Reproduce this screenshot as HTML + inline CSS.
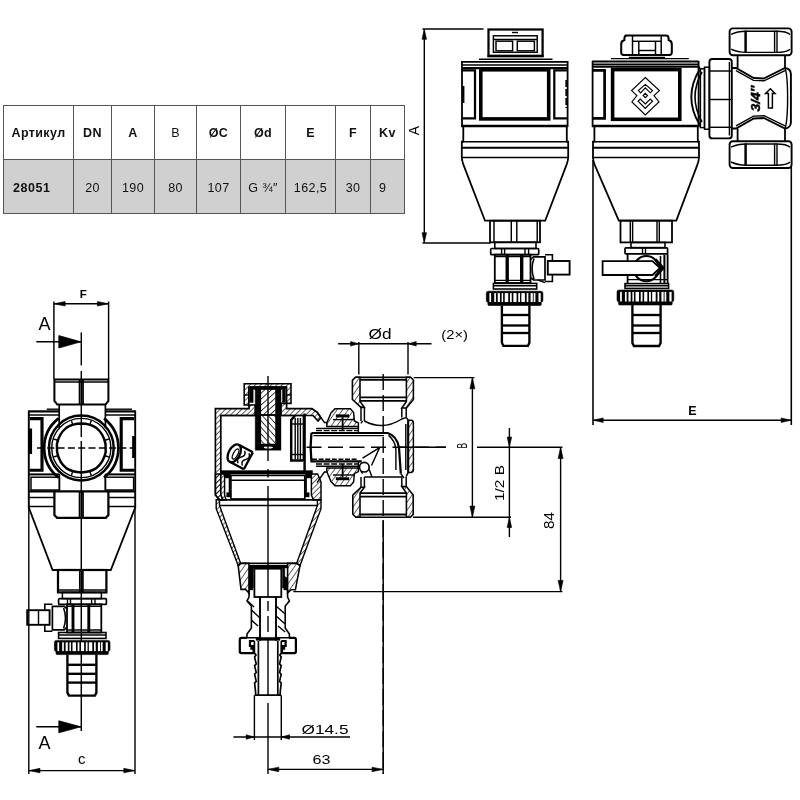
<!DOCTYPE html>
<html lang="ru"><head><meta charset="utf-8"><title>28051</title>
<style>
html,body{margin:0;padding:0;background:#fff;}
html{filter:grayscale(1);}
body{width:800px;height:800px;position:relative;overflow:hidden;font-family:"Liberation Sans",sans-serif;}
svg{position:absolute;left:0;top:0;opacity:0.999;}
table.spec{position:absolute;left:3px;top:105px;border-collapse:collapse;table-layout:fixed;font-family:"Liberation Sans",sans-serif;color:#111;}
table.spec td,table.spec th{border:1px solid #555;padding:0;text-align:center;vertical-align:middle;overflow:hidden;white-space:nowrap;}
table.spec th{height:51.5px;font-size:12.5px;letter-spacing:0.4px;font-weight:bold;background:#fff;padding-top:1px;}
table.spec td{height:50px;font-size:12.5px;letter-spacing:0.4px;background:#d0d0d0;padding-top:3px;}
table.spec td.b{font-weight:bold;text-align:left;padding-left:9px;padding-top:3px;font-size:12.5px;letter-spacing:0.55px;}
</style></head><body>
<table class="spec">
<colgroup><col style="width:70px"><col style="width:38px"><col style="width:43px"><col style="width:42px"><col style="width:44px"><col style="width:45px"><col style="width:50px"><col style="width:35px"><col style="width:34px"></colgroup>
<tr><th>Артикул</th><th>DN</th><th>A</th><th style="font-weight:normal">B</th><th>ØC</th><th>Ød</th><th>E</th><th>F</th><th>Kv</th></tr>
<tr><td class="b">28051</td><td>20</td><td>190</td><td>80</td><td>107</td><td>G ¾″</td><td>162,5</td><td>30</td><td style="text-align:left;padding-left:8px">9</td></tr>
</table>
<svg width="800" height="800" viewBox="0 0 800 800" fill="none" stroke="#000" stroke-linecap="butt" stroke-linejoin="miter">
<line x1="422.5" y1="29" x2="483.5" y2="29" stroke-width="1.4" />
<line x1="424.3" y1="29" x2="424.3" y2="243" stroke-width="1.4" />
<line x1="422.5" y1="243" x2="490.6" y2="243" stroke-width="1.4" />
<polygon points="424.30,29.30 422.05,39.30 426.55,39.30" fill="#000" stroke="#000" stroke-width="0.6"/>
<polygon points="424.30,242.70 422.05,232.70 426.55,232.70" fill="#000" stroke="#000" stroke-width="0.6"/>
<text x="418.5" y="130.5" font-size="14" font-weight="normal" text-anchor="middle" font-family='"Liberation Sans", sans-serif' fill="#000" stroke="none" transform="rotate(-90 418.5 130.5)" class="thin">A</text>
<rect x="488.5" y="29.5" width="54.10" height="26.50" rx="0" stroke-width="2.24" fill="none" />
<line x1="487.5" y1="56" x2="543.6" y2="56" stroke-width="2.69" />
<rect x="493.4" y="35.8" width="43.80" height="16.50" rx="0" stroke-width="1.46" fill="none" />
<line x1="493.4" y1="39.5" x2="537.2" y2="39.5" stroke-width="1.46" />
<rect x="496" y="41.2" width="16.60" height="9.60" rx="0" stroke-width="1.46" fill="none" />
<rect x="517.3" y="41.2" width="17.10" height="9.60" rx="0" stroke-width="1.46" fill="none" />
<line x1="512" y1="32.5" x2="518" y2="32.5" stroke-width="1.4" />
<line x1="479" y1="59.2" x2="552.5" y2="59.2" stroke-width="1.4" />
<line x1="461.3" y1="61.8" x2="567.6" y2="61.8" stroke-width="1.79" />
<line x1="461.8" y1="65" x2="567" y2="65" stroke-width="1.4" />
<line x1="461.3" y1="68.2" x2="567.6" y2="68.2" stroke-width="2.24" />
<rect x="480.8" y="69.8" width="67.90" height="49.10" rx="0" stroke-width="3.58" fill="none" />
<path d="M461.8,70.4 H475 V118.4 H461.8" stroke-width="2.24" fill="none" />
<path d="M566.9,70.4 H554.3 V118.4 H566.9" stroke-width="2.24" fill="none" />
<line x1="463.3" y1="86" x2="463.3" y2="103" stroke-width="2.24" />
<line x1="566.6" y1="80" x2="566.6" y2="108" stroke-width="2.46" stroke-dasharray="7 2"/>
<line x1="461.3" y1="126" x2="568" y2="126" stroke-width="2.58" />
<line x1="461.8" y1="141.7" x2="568" y2="141.7" stroke-width="1.57" />
<line x1="461.8" y1="147.8" x2="568" y2="147.8" stroke-width="2.13" />
<line x1="461.8" y1="157.5" x2="568" y2="157.5" stroke-width="1.57" />
<path d="M462,61 V126 H463.3 V141.7 H461.8 V157.5 Q462,161 463.4,164.6 L485,220.7 H545.2 L566.6,164.6 Q568,161 568.2,157.5 V141.7 H566.8 V126 H567.6 V61" stroke-width="1.79" fill="none" />
<rect x="490" y="220.7" width="50.00" height="21.60" rx="0" stroke-width="1.79" fill="none" />
<line x1="494" y1="220.7" x2="494" y2="242.3" stroke-width="1.46" />
<line x1="511.3" y1="220.7" x2="511.3" y2="242.3" stroke-width="1.46" />
<line x1="516.8" y1="220.7" x2="516.8" y2="242.3" stroke-width="1.46" />
<line x1="537.2" y1="220.7" x2="537.2" y2="242.3" stroke-width="1.46" />
<rect x="494.8" y="242.3" width="41.20" height="6.20" rx="0" stroke-width="1.57" fill="none" />
<rect x="490.7" y="248.5" width="48.00" height="6.20" rx="1" stroke-width="1.68" fill="none" />
<line x1="501.6" y1="248.5" x2="501.6" y2="254.7" stroke-width="1.4" />
<line x1="504.6" y1="248.5" x2="504.6" y2="254.7" stroke-width="1.4" />
<line x1="525" y1="248.5" x2="525" y2="254.7" stroke-width="1.4" />
<line x1="528.6" y1="248.5" x2="528.6" y2="254.7" stroke-width="1.4" />
<rect x="494.8" y="254.7" width="35.70" height="28.30" rx="0" stroke-width="1.79" fill="none" />
<line x1="494.8" y1="256.6" x2="530.5" y2="256.6" stroke-width="1.4" />
<line x1="507.2" y1="254.7" x2="507.2" y2="283" stroke-width="3.36" />
<line x1="521.7" y1="254.7" x2="521.7" y2="283" stroke-width="3.36" />
<line x1="494.8" y1="280.4" x2="530.5" y2="280.4" stroke-width="1.4" />
<path d="M530.5,259.5 L533.5,256.8 H545 V280 H533.5 L530.5,277.5" stroke-width="1.68" fill="none" />
<path d="M534,258.5 Q530.2,268.5 534,279" stroke-width="1.57" fill="none" />
<path d="M545,254.8 H552.4 V281.5 H545" stroke-width="1.57" fill="none" />
<line x1="538" y1="280" x2="545" y2="282.6" stroke-width="1.4" />
<rect x="547.8" y="261" width="21.80" height="13.60" rx="0" stroke-width="1.9" fill="#fff" />
<rect x="493.4" y="283.4" width="43.30" height="5.60" rx="0" stroke-width="1.57" fill="none" />
<line x1="493.4" y1="285.8" x2="536.7" y2="285.8" stroke-width="1.4" />
<path d="M488.3,291.2 H540.9 Q542.9,291.2 542.9,293.2 V300.5 Q542.9,302.1 541.3,302.3 V304.5 Q541.3,305.5 540.3,305.5 H488.90000000000003 Q487.90000000000003,305.5 487.90000000000003,304.5 V302.3 Q486.3,302.1 486.3,300.5 V293.2 Q486.3,291.2 488.3,291.2 Z" fill="#000" stroke="#000" stroke-width="0.6"/>
<rect x="489.41" y="293.09999999999997" width="1.70" height="8.90" fill="#fff" stroke="none"/>
<rect x="494.21" y="293.09999999999997" width="1.70" height="8.90" fill="#fff" stroke="none"/>
<rect x="497.72" y="293.09999999999997" width="2.20" height="8.90" fill="#fff" stroke="none"/>
<rect x="501.63" y="293.09999999999997" width="1.50" height="8.90" fill="#fff" stroke="none"/>
<rect x="504.73" y="293.09999999999997" width="3.51" height="8.90" fill="#fff" stroke="none"/>
<rect x="509.94" y="293.09999999999997" width="1.80" height="8.90" fill="#fff" stroke="none"/>
<rect x="513.35" y="293.09999999999997" width="3.21" height="8.90" fill="#fff" stroke="none"/>
<rect x="518.26" y="293.09999999999997" width="1.80" height="8.90" fill="#fff" stroke="none"/>
<rect x="521.36" y="293.09999999999997" width="3.51" height="8.90" fill="#fff" stroke="none"/>
<rect x="526.67" y="293.09999999999997" width="1.70" height="8.90" fill="#fff" stroke="none"/>
<rect x="530.58" y="293.09999999999997" width="2.20" height="8.90" fill="#fff" stroke="none"/>
<rect x="533.68" y="293.09999999999997" width="1.70" height="8.90" fill="#fff" stroke="none"/>
<rect x="538.49" y="293.09999999999997" width="2.20" height="8.90" fill="#fff" stroke="none"/>
<path d="M501.9,305.5 V342.8 L503.4,345.8 H527.9 L529.4,342.8 V305.5" stroke-width="2.35" fill="none" />
<line x1="501.9" y1="315" x2="529.4" y2="315" stroke-width="2.35" />
<line x1="501.9" y1="325.5" x2="529.4" y2="325.5" stroke-width="2.35" />
<line x1="501.9" y1="333" x2="529.4" y2="333" stroke-width="2.35" />
<text x="454.6" y="338.6" font-size="13.3" font-weight="normal" text-anchor="middle" font-family='"Liberation Sans", sans-serif' fill="#000" stroke="none" class="thin" textLength="26.5" lengthAdjust="spacingAndGlyphs">(2×)</text>
<line x1="593" y1="160" x2="593" y2="425" stroke-width="1.57" />
<line x1="791.3" y1="167" x2="791.3" y2="425" stroke-width="1.57" />
<line x1="593" y1="420.2" x2="791.3" y2="420.2" stroke-width="1.46" />
<polygon points="593.20,420.20 603.20,417.95 603.20,422.45" fill="#000" stroke="#000" stroke-width="0.6"/>
<polygon points="791.10,420.20 781.10,417.95 781.10,422.45" fill="#000" stroke="#000" stroke-width="0.6"/>
<text x="692.5" y="415.3" font-size="12.5" font-weight="bold" text-anchor="middle" font-family='"Liberation Sans", sans-serif' fill="#000" stroke="none" >E</text>
<path d="M625,35.5 H666 Q668.4,35.5 668.6,38 V40 Q671.8,41 671.8,44 V52.6 Q671.8,55 669.4,55 H623.6 Q621.2,55 621.2,52.6 V44 Q621.2,41 624.4,40 V38 Q624.6,35.5 627,35.5" stroke-width="2.02" fill="none" />
<line x1="632.5" y1="41.3" x2="661.2" y2="41.3" stroke-width="1.46" />
<line x1="632.5" y1="36" x2="632.5" y2="54.6" stroke-width="1.46" />
<line x1="638.8" y1="41.3" x2="638.8" y2="54.6" stroke-width="1.46" />
<line x1="655.5" y1="41.3" x2="655.5" y2="54.6" stroke-width="1.46" />
<line x1="661.2" y1="36" x2="661.2" y2="54.6" stroke-width="1.46" />
<line x1="638.8" y1="50.5" x2="655.5" y2="50.5" stroke-width="1.46" />
<line x1="628.8" y1="57.4" x2="665" y2="57.4" stroke-width="1.46" />
<line x1="611" y1="58.6" x2="688.8" y2="58.6" stroke-width="1.4" />
<line x1="592" y1="61.5" x2="698.6" y2="61.5" stroke-width="1.79" />
<line x1="592.4" y1="64.2" x2="698.2" y2="64.2" stroke-width="1.4" />
<line x1="592" y1="66.6" x2="698.6" y2="66.6" stroke-width="2.24" />
<rect x="612.6" y="69.6" width="67.20" height="49.70" rx="0" stroke-width="3.58" fill="none" />
<path d="M592.4,70.4 H604.6 V118.4 H592.4" stroke-width="2.69" fill="none" />
<line x1="592" y1="126" x2="699" y2="126" stroke-width="2.58" />
<line x1="592.4" y1="141.7" x2="699" y2="141.7" stroke-width="1.57" />
<line x1="592.4" y1="147.8" x2="699" y2="147.8" stroke-width="2.13" />
<line x1="592.4" y1="157.5" x2="699" y2="157.5" stroke-width="1.57" />
<path d="M592.6,61 V126 H594.4 V141.7 H593 V157.5 Q593.2,161 594.6,164.6 L618.8,220.6 H676.3 L697.4,164.6 Q698.8,161 699,157.5 V141.7 H697.8 V126 H698.6 V61" stroke-width="1.79" fill="none" />
<rect x="620.5" y="220.6" width="51.50" height="21.80" rx="0" stroke-width="1.79" fill="none" />
<line x1="630.3" y1="220.6" x2="630.3" y2="242.4" stroke-width="1.4" />
<line x1="632.6" y1="220.6" x2="632.6" y2="242.4" stroke-width="1.4" />
<line x1="657" y1="220.6" x2="657" y2="242.4" stroke-width="1.4" />
<line x1="659.3" y1="220.6" x2="659.3" y2="242.4" stroke-width="1.4" />
<rect x="631" y="242.4" width="34.00" height="5.20" rx="0" stroke-width="1.57" fill="none" />
<rect x="625" y="247.8" width="42.60" height="6.00" rx="1" stroke-width="1.68" fill="none" />
<line x1="642.5" y1="247.8" x2="642.5" y2="253.8" stroke-width="1.4" />
<line x1="645.5" y1="247.8" x2="645.5" y2="253.8" stroke-width="1.4" />
<path d="M627.6,253.8 V283.6 M667.6,253.8 V283.6" stroke-width="1.79" fill="none" />
<line x1="664.4" y1="255" x2="664.4" y2="283" stroke-width="2.02" />
<line x1="660.5" y1="256" x2="660.5" y2="283" stroke-width="1.57" />
<circle cx="646.3" cy="268.6" r="12.6" stroke-width="2.13" fill="none" />
<path d="M602.6,261.2 H652.5 L660,268 L652.5,275 H602.6 Z" stroke-width="1.79" fill="#fff" />
<path d="M655.4,259.6 L663,268 L655.4,276.4" stroke-width="2.91" fill="none" />
<line x1="627.6" y1="279.6" x2="667.6" y2="279.6" stroke-width="1.4" />
<rect x="625" y="283.6" width="43.60" height="4.80" rx="0" stroke-width="1.57" fill="none" />
<line x1="625" y1="285.8" x2="668.6" y2="285.8" stroke-width="1.4" />
<path d="M619,290 H671.8 Q673.8,290 673.8,292 V300 Q673.8,301.6 672.1999999999999,301.8 V304 Q672.1999999999999,305 671.1999999999999,305 H619.6 Q618.6,305 618.6,304 V301.8 Q617,301.6 617,300 V292 Q617,290 619,290 Z" fill="#000" stroke="#000" stroke-width="0.6"/>
<rect x="620.12" y="291.9" width="1.71" height="9.60" fill="#fff" stroke="none"/>
<rect x="624.94" y="291.9" width="1.71" height="9.60" fill="#fff" stroke="none"/>
<rect x="628.46" y="291.9" width="2.21" height="9.60" fill="#fff" stroke="none"/>
<rect x="632.38" y="291.9" width="1.51" height="9.60" fill="#fff" stroke="none"/>
<rect x="635.50" y="291.9" width="3.52" height="9.60" fill="#fff" stroke="none"/>
<rect x="640.73" y="291.9" width="1.81" height="9.60" fill="#fff" stroke="none"/>
<rect x="644.14" y="291.9" width="3.22" height="9.60" fill="#fff" stroke="none"/>
<rect x="649.07" y="291.9" width="1.81" height="9.60" fill="#fff" stroke="none"/>
<rect x="652.19" y="291.9" width="3.52" height="9.60" fill="#fff" stroke="none"/>
<rect x="657.51" y="291.9" width="1.71" height="9.60" fill="#fff" stroke="none"/>
<rect x="661.43" y="291.9" width="2.21" height="9.60" fill="#fff" stroke="none"/>
<rect x="664.55" y="291.9" width="1.71" height="9.60" fill="#fff" stroke="none"/>
<rect x="669.38" y="291.9" width="2.21" height="9.60" fill="#fff" stroke="none"/>
<path d="M632.4,305 V343 L633.9,346 H659.1 L660.6,343 V305" stroke-width="2.35" fill="none" />
<line x1="632.4" y1="315" x2="660.6" y2="315" stroke-width="2.35" />
<line x1="632.4" y1="325.5" x2="660.6" y2="325.5" stroke-width="2.35" />
<line x1="632.4" y1="333" x2="660.6" y2="333" stroke-width="2.35" />
<path d="M699.6,69.4 Q683,97 699.6,124.6" stroke-width="1.9" fill="none" />
<path d="M702,72 Q688,97 702,122" stroke-width="1.57" fill="none" />
<path d="M699,66.6 L700.5,69.5 M699,126 L700.5,124.5" stroke-width="1.4" fill="none" />
<rect x="700.4" y="68.8" width="4.10" height="58.80" rx="0" stroke-width="1.46" fill="none" />
<rect x="704.5" y="67.2" width="4.90" height="62.00" rx="0" stroke-width="1.46" fill="none" />
<rect x="709.4" y="59" width="22.40" height="79.40" rx="3" stroke-width="1.9" fill="none" />
<line x1="709.4" y1="71" x2="731.8" y2="71" stroke-width="1.46" />
<line x1="709.4" y1="99.5" x2="731.8" y2="99.5" stroke-width="1.46" />
<line x1="709.4" y1="127.3" x2="731.8" y2="127.3" stroke-width="1.46" />
<line x1="729.4" y1="62" x2="729.4" y2="135.5" stroke-width="1.4" />
<rect x="729.6" y="28.4" width="62.00" height="26.80" rx="3.2" stroke-width="1.9" fill="none" />
<line x1="745.6" y1="30.599999999999998" x2="745.6" y2="53.0" stroke-width="2.46" />
<line x1="774.6" y1="30.599999999999998" x2="774.6" y2="53.0" stroke-width="1.4" />
<line x1="777" y1="30.599999999999998" x2="777" y2="53.0" stroke-width="1.4" />
<path d="M731.1,34.4 Q737.6,31.2 746,31.2 H776.3 Q786.6,31.2 790.1,34.4" stroke-width="1.4" fill="none" />
<path d="M731.1,49.2 Q737.6,52.400000000000006 746,52.400000000000006 H776.3 Q786.6,52.400000000000006 790.1,49.2" stroke-width="1.4" fill="none" />
<rect x="729.6" y="141.2" width="62.00" height="26.80" rx="3.2" stroke-width="1.9" fill="none" />
<line x1="745.6" y1="143.39999999999998" x2="745.6" y2="165.8" stroke-width="2.46" />
<line x1="774.6" y1="143.39999999999998" x2="774.6" y2="165.8" stroke-width="1.4" />
<line x1="777" y1="143.39999999999998" x2="777" y2="165.8" stroke-width="1.4" />
<path d="M731.1,147.2 Q737.6,144.0 746,144.0 H776.3 Q786.6,144.0 790.1,147.2" stroke-width="1.4" fill="none" />
<path d="M731.1,162 Q737.6,165.2 746,165.2 H776.3 Q786.6,165.2 790.1,162" stroke-width="1.4" fill="none" />
<path d="M737.6,55.2 V68 M785,55.2 V68" stroke-width="1.79" fill="none" />
<path d="M737.6,141.2 V128.5 M785,141.2 V128.5" stroke-width="1.79" fill="none" />
<path d="M732,68 H736 L753.75,78 L763.75,78.5 L785,68 Q790.6,68.5 790.9,74 V122.5 Q790.6,128 785,128.5 L763.75,118 L753.75,118.5 L736,128.5 H732" stroke-width="1.9" fill="none" />
<path d="M736,70.6 L753.5,80.4 L764,80.8 L785,70.6" stroke-width="1.4" fill="none" />
<path d="M736,125.9 L753.5,116.1 L764,115.7 L785,125.9" stroke-width="1.4" fill="none" />
<path d="M785,68 Q787.6,75 787.6,98 Q787.6,121 785,128.5" stroke-width="1.4" fill="none" />
<text x="759.6" y="111.5" font-size="13.5" font-weight="bold" text-anchor="start" font-family='"Liberation Sans", sans-serif' fill="#000"  transform="rotate(-90 759.6 111.5)" font-style="italic" stroke="#000" stroke-width="0.5" textLength="26" lengthAdjust="spacingAndGlyphs">3/4″</text>
<path d="M770.3,88.8 L775,93.4 H772.4 V108 H768.4 V93.4 H765.6 Z" stroke-width="1.46" fill="none" />
<g stroke-width="1.15" stroke-linejoin="miter">
<path d="M645.3,77.5 L659.4,90.6 L654,95.6 L659,101.9 L645.3,115 L631.9,101.9 L636.9,95.6 L631.6,90.6 Z"/>
<path d="M645.3,84.4 L652.5,90.6 L650.3,92.8 L645.3,87.8 L640.6,92.8 L638.4,90.6 Z"/>
<path d="M645.3,93.3 L647.5,95.5 L645.3,97.7 L643.1,95.5 Z"/>
<path d="M645.3,108.4 L652.5,101.25 L650.3,99 L645.3,104 L640.3,99 L638.1,101.25 Z"/>
</g>
<line x1="53.9" y1="301.5" x2="53.9" y2="379" stroke-width="1.46" />
<line x1="108.6" y1="301.5" x2="108.6" y2="379" stroke-width="1.46" />
<line x1="53.9" y1="303.8" x2="108.6" y2="303.8" stroke-width="1.46" />
<polygon points="54.10,303.80 65.10,301.55 65.10,306.05" fill="#000" stroke="#000" stroke-width="0.6"/>
<polygon points="108.40,303.80 97.40,301.55 97.40,306.05" fill="#000" stroke="#000" stroke-width="0.6"/>
<text x="83.3" y="298.2" font-size="11.5" font-weight="bold" text-anchor="middle" font-family='"Liberation Sans", sans-serif' fill="#000" stroke="none" >F</text>
<text x="44.5" y="330" font-size="18" font-weight="normal" text-anchor="middle" font-family='"Liberation Sans", sans-serif' fill="#000" stroke="none" class="thin">A</text>
<line x1="36.3" y1="341.8" x2="81.3" y2="341.8" stroke-width="1.46" />
<polygon points="80.8,341.8 58.8,335.6 58.8,348" fill="#000" stroke="#000" stroke-width="0.8"/>
<text x="44.5" y="749.3" font-size="18" font-weight="normal" text-anchor="middle" font-family='"Liberation Sans", sans-serif' fill="#000" stroke="none" class="thin">A</text>
<line x1="36.3" y1="726.8" x2="81.3" y2="726.8" stroke-width="1.4" />
<polygon points="80.8,726.8 58.8,720.8 58.8,732.8" fill="#000" stroke="#000" stroke-width="0.8"/>
<line x1="81.3" y1="332.4" x2="81.3" y2="365.4" stroke-width="1.46" />
<line x1="81.3" y1="371" x2="81.3" y2="437" stroke-width="1.46" />
<line x1="81.3" y1="441" x2="81.3" y2="731" stroke-width="1.46" />
<path d="M54.4,379.6 H108.4 V401 L105.5,404.6 H57.3 L54.4,401 Z" stroke-width="2.02" fill="none" />
<line x1="79.6" y1="380" x2="79.6" y2="404.6" stroke-width="1.79" />
<line x1="83" y1="380" x2="83" y2="404.6" stroke-width="1.79" />
<line x1="54.4" y1="382" x2="108.4" y2="382" stroke-width="1.4" />
<path d="M59.2,404.6 V428 M105.4,404.6 V428" stroke-width="1.68" fill="none" />
<line x1="46.8" y1="409.2" x2="59.2" y2="409.2" stroke-width="1.4" />
<line x1="105.4" y1="409.2" x2="132" y2="409.2" stroke-width="1.4" />
<line x1="28.8" y1="411.4" x2="59.2" y2="411.4" stroke-width="2.24" />
<line x1="105.4" y1="411.4" x2="135.2" y2="411.4" stroke-width="2.24" />
<line x1="28.8" y1="415" x2="59.2" y2="415" stroke-width="1.46" />
<line x1="105.4" y1="415" x2="135.2" y2="415" stroke-width="1.46" />
<path d="M28.8,410.4 V508.6 M135.2,410.4 V508.6" stroke-width="1.9" fill="none" />
<path d="M29.6,418.6 H42 V470.2 H29.6" stroke-width="3.14" fill="none" />
<path d="M134.4,418.6 H121.2 V470.2 H134.4" stroke-width="3.14" fill="none" />
<line x1="30.4" y1="428.5" x2="30.4" y2="454" stroke-width="3.36" />
<line x1="133.8" y1="436" x2="133.8" y2="458" stroke-width="3.36" />
<path d="M58.6,418.4 A37.6,37.6 0 0 0 58.6,477.6" stroke-width="2.69" fill="none" />
<path d="M104,418.4 A37.6,37.6 0 0 1 104,477.6" stroke-width="2.69" fill="none" />
<circle cx="81.3" cy="448" r="32.4" stroke-width="2.46" fill="none" />
<circle cx="81.3" cy="448" r="29.6" stroke-width="1.4" fill="none" />
<path d="M81.3,423.6 Q90,423.8 96,427.6 Q103.6,433.5 105.5,444 L105.7,452 Q103.6,462.5 96,468.4 Q90,472.2 81.3,472.4 Q72.6,472.2 66.6,468.4 Q59,462.5 57.1,452 L56.9,444 Q59,433.5 66.6,427.6 Q72.6,423.8 81.3,423.6 Z" stroke-width="2.46" fill="none" />
<line x1="57.52" y1="440.27" x2="53.24" y2="438.88" stroke-width="1.4" />
<line x1="57.52" y1="455.73" x2="53.24" y2="457.12" stroke-width="1.4" />
<line x1="105.08" y1="440.27" x2="109.36" y2="438.88" stroke-width="1.4" />
<line x1="105.08" y1="455.73" x2="109.36" y2="457.12" stroke-width="1.4" />
<line x1="72.58" y1="424.04" x2="71.21" y2="420.28" stroke-width="1.4" />
<line x1="90.02" y1="424.04" x2="91.39" y2="420.28" stroke-width="1.4" />
<line x1="90.02" y1="471.96" x2="91.39" y2="475.72" stroke-width="1.4" />
<line x1="72.58" y1="471.96" x2="71.21" y2="475.72" stroke-width="1.4" />
<line x1="34" y1="448" x2="134" y2="448" stroke-width="1.4" stroke-dasharray="7 3.3" stroke-dashoffset="7.3"/>
<line x1="28.8" y1="474.4" x2="59.2" y2="474.4" stroke-width="2.02" />
<line x1="105.4" y1="474.4" x2="135.2" y2="474.4" stroke-width="2.02" />
<rect x="31" y="477.2" width="28.40" height="12.80" rx="0" stroke-width="1.46" fill="none" />
<rect x="105.4" y="477.2" width="28.20" height="12.80" rx="0" stroke-width="1.46" fill="none" />
<path d="M59.4,474 V490.4 M105.4,474 V490.4" stroke-width="1.57" fill="none" />
<line x1="28.8" y1="491.4" x2="135.2" y2="491.4" stroke-width="2.24" />
<line x1="28.8" y1="497.5" x2="54.4" y2="497.5" stroke-width="1.46" />
<line x1="108.4" y1="497.5" x2="135.2" y2="497.5" stroke-width="1.46" />
<line x1="28.8" y1="506.5" x2="54.4" y2="506.5" stroke-width="1.46" />
<line x1="108.4" y1="506.5" x2="135.2" y2="506.5" stroke-width="1.46" />
<path d="M54.4,491.4 V515 L57,517.8 H105.8 L108.4,515 V491.4" stroke-width="2.24" fill="none" />
<line x1="79.6" y1="491" x2="79.6" y2="517.8" stroke-width="1.79" />
<line x1="83" y1="491" x2="83" y2="517.8" stroke-width="1.79" />
<path d="M28.8,507.6 L52.6,570 H110.8 L135.2,507.6" stroke-width="1.79" fill="none" />
<rect x="58" y="570" width="48.40" height="22.40" rx="0" stroke-width="2.24" fill="none" />
<line x1="79.8" y1="570" x2="79.8" y2="592.4" stroke-width="1.68" />
<line x1="82.9" y1="570" x2="82.9" y2="592.4" stroke-width="1.68" />
<line x1="58" y1="590" x2="106.4" y2="590" stroke-width="1.4" />
<rect x="62.4" y="592.4" width="39.00" height="6.20" rx="0" stroke-width="1.46" fill="none" />
<rect x="58.6" y="598.6" width="47.80" height="5.80" rx="1" stroke-width="1.68" fill="none" />
<line x1="67.5" y1="598.6" x2="67.5" y2="604.4" stroke-width="1.4" />
<line x1="70.5" y1="598.6" x2="70.5" y2="604.4" stroke-width="1.4" />
<line x1="91.6" y1="598.6" x2="91.6" y2="604.4" stroke-width="1.4" />
<line x1="95" y1="598.6" x2="95" y2="604.4" stroke-width="1.4" />
<rect x="67" y="604.4" width="34.30" height="28.10" rx="0" stroke-width="1.79" fill="none" />
<line x1="73" y1="604.4" x2="73" y2="632.5" stroke-width="2.91" />
<line x1="88.8" y1="604.4" x2="88.8" y2="632.5" stroke-width="2.91" />
<line x1="67" y1="606.4" x2="101.3" y2="606.4" stroke-width="1.4" />
<line x1="67" y1="630" x2="101.3" y2="630" stroke-width="1.4" />
<path d="M67,609 L64.2,606.4 H52.4 V629.8 H64.2 L67,627.2" stroke-width="1.68" fill="none" />
<path d="M63.6,608 Q67.4,618 63.6,628.5" stroke-width="1.57" fill="none" />
<path d="M52.4,604.2 H44.8 V631.2 H52.4" stroke-width="1.57" fill="none" />
<rect x="27.2" y="610.2" width="22.40" height="14.60" rx="0" stroke-width="1.9" fill="#fff" />
<line x1="38.5" y1="610.2" x2="38.5" y2="624.8" stroke-width="1.4" />
<rect x="58.6" y="632.5" width="47.40" height="5.90" rx="0" stroke-width="1.57" fill="none" />
<line x1="58.6" y1="635" x2="106" y2="635" stroke-width="1.4" />
<path d="M56.4,640.4 H108 Q110,640.4 110,642.4 V649.6 Q110,651.2 108.4,651.4 V653.6 Q108.4,654.6 107.4,654.6 H57.0 Q56.0,654.6 56.0,653.6 V651.4 Q54.4,651.2 54.4,649.6 V642.4 Q54.4,640.4 56.4,640.4 Z" fill="#000" stroke="#000" stroke-width="0.6"/>
<rect x="57.45" y="642.3" width="1.67" height="8.80" fill="#fff" stroke="none"/>
<rect x="62.17" y="642.3" width="1.67" height="8.80" fill="#fff" stroke="none"/>
<rect x="65.62" y="642.3" width="2.16" height="8.80" fill="#fff" stroke="none"/>
<rect x="69.46" y="642.3" width="1.48" height="8.80" fill="#fff" stroke="none"/>
<rect x="72.51" y="642.3" width="3.44" height="8.80" fill="#fff" stroke="none"/>
<rect x="77.62" y="642.3" width="1.77" height="8.80" fill="#fff" stroke="none"/>
<rect x="80.97" y="642.3" width="3.15" height="8.80" fill="#fff" stroke="none"/>
<rect x="85.79" y="642.3" width="1.77" height="8.80" fill="#fff" stroke="none"/>
<rect x="88.84" y="642.3" width="3.44" height="8.80" fill="#fff" stroke="none"/>
<rect x="94.06" y="642.3" width="1.67" height="8.80" fill="#fff" stroke="none"/>
<rect x="97.90" y="642.3" width="2.16" height="8.80" fill="#fff" stroke="none"/>
<rect x="100.95" y="642.3" width="1.67" height="8.80" fill="#fff" stroke="none"/>
<rect x="105.67" y="642.3" width="2.16" height="8.80" fill="#fff" stroke="none"/>
<path d="M67.4,654.6 V692.6 L68.9,695.6 H94.9 L96.4,692.6 V654.6" stroke-width="2.35" fill="none" />
<line x1="67.4" y1="664.8" x2="96.4" y2="664.8" stroke-width="2.35" />
<line x1="67.4" y1="673.8" x2="96.4" y2="673.8" stroke-width="2.35" />
<line x1="67.4" y1="682.6" x2="96.4" y2="682.6" stroke-width="2.35" />
<line x1="28.8" y1="508.6" x2="28.8" y2="774" stroke-width="1.4" />
<line x1="135" y1="508.6" x2="135" y2="774" stroke-width="1.4" />
<line x1="28.8" y1="770.6" x2="135" y2="770.6" stroke-width="1.4" />
<polygon points="29.00,770.60 40.00,768.35 40.00,772.85" fill="#000" stroke="#000" stroke-width="0.6"/>
<polygon points="134.80,770.60 123.80,768.35 123.80,772.85" fill="#000" stroke="#000" stroke-width="0.6"/>
<text x="81.8" y="764.4" font-size="15" font-weight="normal" text-anchor="middle" font-family='"Liberation Sans", sans-serif' fill="#000" stroke="none" class="thin">c</text>
<defs>
<pattern id="h1" width="3.8" height="3.8" patternUnits="userSpaceOnUse" patternTransform="rotate(45)"><line x1="0" y1="0" x2="0" y2="3.8" stroke="#000" stroke-width="1.25"/></pattern>
<pattern id="h2" width="4.4" height="4.4" patternUnits="userSpaceOnUse" patternTransform="rotate(-42)"><line x1="0" y1="0" x2="0" y2="4.4" stroke="#000" stroke-width="1.5"/></pattern>
<pattern id="h3" width="4.6" height="4.6" patternUnits="userSpaceOnUse" patternTransform="rotate(35)"><line x1="0" y1="0" x2="0" y2="4.6" stroke="#000" stroke-width="1.2"/></pattern>
<pattern id="h4" width="4.4" height="4.4" patternUnits="userSpaceOnUse" patternTransform="rotate(48)"><line x1="0" y1="0" x2="0" y2="4.4" stroke="#000" stroke-width="1.5"/></pattern>
</defs>
<path d="M244.2,383.8 H291 V403.4 H286.6 V387 H248.8 V405 H244.2 Z" stroke-width="1.57" fill="url(#h1)" />
<path d="M249.4,386.6 H286 V389 H285.6 V402.6 H282.4 V389.4 H253.2 V402.6 H249.4 Z" fill="#000" stroke="#000" stroke-width="0.4"/>
<line x1="244.2" y1="395" x2="248.8" y2="395" stroke-width="1.4" />
<line x1="286.6" y1="395" x2="291" y2="395" stroke-width="1.4" />
<path d="M255.2,388.8 H260.4 V444.6 H276 V388.8 H281 V450.2 H255.2 Z" fill="#000" stroke="#000" stroke-width="0.4"/>
<path d="M260.4,388.8 H276 V415 H260.4 Z" stroke-width="1.4" fill="url(#h4)" />
<path d="M260.4,415 H276 V444.4 H260.4 Z" stroke-width="1.4" fill="url(#h2)" />
<ellipse cx="268.4" cy="447.6" rx="4.6" ry="1.1" fill="#fff" stroke="none"/>
<path d="M215.4,408.7 H249 V405 H255.2 V415.5 H220.8 V495 L223,499.8 H219.5 L215.4,495 Z" stroke-width="1.68" fill="url(#h1)" />
<path d="M281,403.4 H286.6 V408.7 H312 L317,412 L321,417.7 L318,421 L313,415.5 H281 Z" stroke-width="1.68" fill="url(#h1)" />
<line x1="220.8" y1="415.5" x2="255.2" y2="415.5" stroke-width="1.46" />
<line x1="281" y1="415.5" x2="304" y2="415.5" stroke-width="1.46" />
<line x1="304.6" y1="413.5" x2="304.6" y2="471" stroke-width="2.46" />
<path d="M220.8,470.6 H312.6 V474 H220.8 Z" fill="#000" stroke="#000" stroke-width="0.4"/>
<path d="M295,415.8 L291.2,420 V460.6 H303.2" stroke-width="2.46" fill="none" />
<line x1="295.2" y1="418" x2="295.2" y2="459.6" stroke-width="1.4" />
<line x1="297.8" y1="418" x2="297.8" y2="459.6" stroke-width="1.4" />
<line x1="300.4" y1="418" x2="300.4" y2="459.6" stroke-width="1.4" />
<line x1="303.4" y1="416" x2="303.4" y2="461" stroke-width="1.57" />
<line x1="291.2" y1="424" x2="303" y2="424" stroke-width="1.4" />
<line x1="291.2" y1="454.5" x2="303" y2="454.5" stroke-width="1.4" />
<g transform="translate(240.4 456.6) rotate(28)" stroke-width="2.3">
<ellipse cx="-7" cy="0" rx="5.6" ry="9.6"/><ellipse cx="-5.5" cy="0" rx="2.2" ry="5.6" stroke-width="1.3"/>
<path d="M-7,-9.6 H9 M-7,9.6 H9 M9,-9.6 V9.6"/>
<path d="M1,-7 Q5,-3.5 1,0 Q-3,3.5 1,7 M6,-7 Q10,-3.5 6,0 Q2,3.5 6,7" stroke-width="1.5"/>
</g>
<path d="M215.4,495 V474 H224.6 V495 L226,499.8 H219.5 Z" stroke-width="1.46" fill="url(#h1)" />
<path d="M224.4,474 H230.4 V478 H224.4 Z" fill="#000" stroke="#000" stroke-width="0.4"/>
<path d="M305.4,474 H311.4 V478 H305.4 Z" fill="#000" stroke="#000" stroke-width="0.4"/>
<path d="M226.6,492.6 H231 V497 H226.6 Z" fill="#000" stroke="#000" stroke-width="0.4"/>
<path d="M304.8,492.6 H309.2 V497 H304.8 Z" fill="#000" stroke="#000" stroke-width="0.4"/>
<path d="M311.4,474 H317.6 L321,482 V499.8 H313.4 L311.4,495 Z" stroke-width="1.46" fill="url(#h1)" />
<rect x="230.9" y="475.4" width="73.90" height="23.60" rx="0" stroke-width="1.68" fill="none" />
<line x1="230.9" y1="480.3" x2="304.8" y2="480.3" stroke-width="1.4" />
<line x1="229.6" y1="478" x2="229.6" y2="497" stroke-width="1.79" />
<line x1="306" y1="478" x2="306" y2="497" stroke-width="1.79" />
<line x1="219.5" y1="499.8" x2="321" y2="499.8" stroke-width="1.68" />
<line x1="219.5" y1="505.5" x2="317.4" y2="505.5" stroke-width="1.46" />
<path d="M216.2,499.8 V508.7 L238.2,565.6 L240.6,563.2 L219.5,505.5 V499.8 Z" stroke-width="1.4" fill="url(#h1)" />
<path d="M321,499.8 V508.7 L300,565.6 L296.7,563.2 L317.4,505.5 V499.8 Z" stroke-width="1.4" fill="url(#h1)" />
<line x1="240.6" y1="563.2" x2="296.7" y2="563.2" stroke-width="1.57" />
<path d="M238.2,565.6 L240.6,563.4 H249 V593 L245.6,589.4 H241 Z" stroke-width="1.57" fill="url(#h3)" />
<path d="M300,565.6 L296.7,563.4 H287.6 V593 L291,589.8 H295.4 Z" stroke-width="1.57" fill="url(#h3)" />
<path d="M249,565 H287.6 V568 H284.8 V588 H282.4 V568.6 H253.4 V588 H249 Z" fill="#000" stroke="#000" stroke-width="0.4"/>
<path d="M249,578 L252.8,576 V590 H249 Z" fill="#000" stroke="#000" stroke-width="0.4"/>
<path d="M287.6,578 L283.8,576 V590 H287.6 Z" fill="#000" stroke="#000" stroke-width="0.4"/>
<rect x="254.4" y="568.7" width="26.90" height="28.30" rx="0" stroke-width="1.79" fill="none" />
<path d="M249,590 V597 L247,601 L251.4,606 V628 L247,634 V637.8 H260 V597" stroke-width="1.57" fill="none" />
<path d="M287.6,590 V597 L289.4,601 L285.2,606 V628 L289.4,634 V637.8 H276 V597" stroke-width="1.57" fill="none" />
<line x1="251.4" y1="610" x2="260" y2="618" stroke-width="1.4" />
<line x1="251.4" y1="620" x2="258" y2="626" stroke-width="1.4" />
<line x1="276" y1="606" x2="285.2" y2="614" stroke-width="1.4" />
<line x1="276" y1="616" x2="285.2" y2="624" stroke-width="1.4" />
<line x1="278" y1="626" x2="285.2" y2="632" stroke-width="1.4" />
<line x1="247.5" y1="601" x2="254" y2="607" stroke-width="1.4" />
<line x1="260" y1="597" x2="260" y2="641" stroke-width="1.57" />
<line x1="276" y1="597" x2="276" y2="641" stroke-width="1.57" />
<path d="M256,637.4 H280 V640.4 H256 Z" fill="#000" stroke="#000" stroke-width="0.4"/>
<path d="M247,637.8 H241.4 Q239.8,637.8 239.8,639.6 V651.6 Q239.8,653.2 241.4,653.2 H253.6 V646 H250 V641 H254.4" stroke-width="2.24" fill="none" />
<path d="M289,637.8 H294.4 Q295.9,637.8 295.9,639.6 V651.6 Q295.9,653.2 294.4,653.2 H282 V646 H285.6 V641 H281.3" stroke-width="2.24" fill="none" />
<path d="M250.6,646.4 H253.6 V649.6 H250.6 Z" fill="#000" stroke="#000" stroke-width="0.4"/>
<path d="M282,646.4 H285 V649.6 H282 Z" fill="#000" stroke="#000" stroke-width="0.4"/>
<path d="M254.4,641 V653 L256,655 L254.6,657 L256.2,664 L254.6,665.6 L256.2,672.6 L254.6,674.2 L256.2,681.4 L254.6,683 L255.6,692 V695.2 H258.4" stroke-width="1.68" fill="none" />
<path d="M281.3,641 V653 L279.8,655 L281.2,657 L279.6,664 L281.2,665.6 L279.6,672.6 L281.2,674.2 L279.6,681.4 L281.2,683 L280.2,692 V695.2 H277.8" stroke-width="1.68" fill="none" />
<path d="M258.4,641 V695.2 H277.8 V641" stroke-width="1.68" fill="none" />
<line x1="254.4" y1="695.2" x2="254.4" y2="740" stroke-width="1.4" />
<line x1="281.3" y1="695.2" x2="281.3" y2="740" stroke-width="1.4" />
<line x1="233.4" y1="737" x2="350" y2="737" stroke-width="1.4" />
<polygon points="254.20,737.00 246.20,734.75 246.20,739.25" fill="#000" stroke="#000" stroke-width="0.6"/>
<polygon points="281.50,737.00 289.50,734.75 289.50,739.25" fill="#000" stroke="#000" stroke-width="0.6"/>
<path d="M360,377.2 H355.4 L352.4,380.4 V399.5 L361,407.4 H364.4 L360,401.5 Z" stroke-width="1.57" fill="url(#h3)" />
<path d="M406.4,377.2 H410.6 L413.4,380 V399.5 L406.4,408 H401.8 L406.4,401.5 Z" stroke-width="1.57" fill="url(#h3)" />
<path d="M361,407.4 V421 M364.4,407.4 V421 M401.8,408 V417.4 M406.2,408 V417.4" stroke-width="1.46" fill="none" />
<line x1="355.4" y1="377.2" x2="410.6" y2="377.2" stroke-width="1.57" />
<line x1="360" y1="379.7" x2="406.4" y2="379.7" stroke-width="2.02" />
<line x1="360" y1="397.4" x2="406.4" y2="397.4" stroke-width="1.79" />
<line x1="360" y1="400.8" x2="406.4" y2="400.8" stroke-width="1.79" />
<path d="M360,517.2 H355.8 L352.8,514.2 V495.1 L361,487.2 H364.4 L360,493.1 Z" stroke-width="1.57" fill="url(#h3)" />
<path d="M406.4,517.2 H410.4 L413.2,514.4 V495 L406.4,486.6 H401.8 L406.4,493.1 Z" stroke-width="1.57" fill="url(#h3)" />
<path d="M361,487.2 V477 M364.4,487.2 V477 M401.8,486.6 V476.4 M406.2,486.6 V476.4" stroke-width="1.46" fill="none" />
<line x1="355.8" y1="517.2" x2="410.4" y2="517.2" stroke-width="1.57" />
<line x1="360" y1="514.6" x2="406.4" y2="514.6" stroke-width="2.02" />
<line x1="360" y1="496.6" x2="406.4" y2="496.6" stroke-width="1.79" />
<line x1="360" y1="493.2" x2="406.4" y2="493.2" stroke-width="1.79" />
<path d="M408.2,420.2 H411.2 Q413.4,420.4 413.4,423 V469.6 Q413.4,472.2 411.2,472.4 H408.2 Z" stroke-width="1.46" fill="url(#h3)" />
<path d="M406.2,417.4 L408.2,420.2 M406.2,476.4 L408.2,472.4" stroke-width="1.46" fill="none" />
<line x1="408.2" y1="420.2" x2="408.2" y2="472.4" stroke-width="2.02" />
<line x1="405.8" y1="424" x2="405.8" y2="470" stroke-width="1.4" />
<path d="M364.4,421 Q383,431 401.8,419 L406,417.6" stroke-width="1.46" fill="none" />
<path d="M364.4,477 H401.8" stroke-width="1.46" fill="none" />
<path d="M311.4,433 H387.6 Q397,436 399,447.6 L400.8,473.6" stroke-width="2.24" fill="none" />
<path d="M388.5,435.4 Q394.6,440 395.9,449.2 V470" stroke-width="1.4" fill="none" />
<path d="M311.4,433 Q309.8,447 311.4,461.4 H361.8" stroke-width="2.24" fill="none" />
<line x1="312" y1="459.2" x2="358" y2="459.2" stroke-width="1.4" stroke-dasharray="5 1.6"/>
<line x1="313.4" y1="435.6" x2="384" y2="435.6" stroke-width="1.4" />
<circle cx="364.3" cy="467.2" r="4.8" stroke-width="1.68" fill="none" />
<path d="M379.6,447.6 L362.6,458.2 M379.6,447.6 L371.5,465.5" stroke-width="1.4" fill="none" />
<path d="M369,469 L372,477 M400.8,473.6 L404,478" stroke-width="1.4" fill="none" />
<path d="M326.8,423.0 L331,413.0 L335,408.8 H350.4 L353.6,412.6 L354.4,421.0 L358.4,423.0 V426.6 H326.8 Z" stroke-width="1.46" fill="url(#h3)" />
<path d="M336,414.6 H349 V417.2 H336 Z" fill="#000" stroke="#000" stroke-width="0.4"/>
<line x1="333" y1="419.6" x2="354" y2="419.6" stroke-width="1.4" />
<path d="M317,412.0 L321,417.7 L324.4,422.6 H326.8" stroke-width="1.46" fill="none" />
<line x1="316" y1="428.4" x2="358.4" y2="428.4" stroke-width="1.46" />
<line x1="316" y1="430.6" x2="358.4" y2="430.6" stroke-width="1.4" stroke-dasharray="6 1.6"/>
<line x1="342.6" y1="417.2" x2="342.6" y2="430.6" stroke-width="1.79" />
<path d="M358.4,426.6 V433.0 M360.9,423.4 L362.6,421.0" stroke-width="1.4" fill="none" />
<path d="M326.8,471.6 L331,481.6 L335,485.8 H350.4 L353.6,482.0 L354.4,473.6 L358.4,471.6 V468.0 H326.8 Z" stroke-width="1.46" fill="url(#h3)" />
<path d="M336,480.0 H349 V477.4 H336 Z" fill="#000" stroke="#000" stroke-width="0.4"/>
<line x1="333" y1="475.0" x2="354" y2="475.0" stroke-width="1.4" />
<path d="M317,482.6 L321,476.9 L324.4,472.0 H326.8" stroke-width="1.46" fill="none" />
<line x1="316" y1="466.2" x2="358.4" y2="466.2" stroke-width="1.46" />
<line x1="316" y1="464.0" x2="358.4" y2="464.0" stroke-width="1.4" stroke-dasharray="6 1.6"/>
<line x1="342.6" y1="477.4" x2="342.6" y2="464.0" stroke-width="1.79" />
<path d="M358.4,468.0 V461.6 M360.9,471.2 L362.6,473.6" stroke-width="1.4" fill="none" />
<line x1="268" y1="376" x2="268" y2="461" stroke-width="1.4" />
<line x1="268" y1="469" x2="268" y2="477.5" stroke-width="1.4" />
<line x1="268" y1="486" x2="268" y2="597" stroke-width="1.4" />
<line x1="268" y1="601" x2="268" y2="611" stroke-width="1.4" />
<line x1="268" y1="616" x2="268" y2="632" stroke-width="1.4" />
<line x1="268" y1="638" x2="268" y2="696" stroke-width="1.4" />
<line x1="268" y1="703" x2="268" y2="774" stroke-width="1.4" />
<line x1="383.2" y1="374" x2="383.2" y2="774" stroke-width="1.4" stroke-dasharray="16 5"/>
<line x1="383.2" y1="520" x2="383.2" y2="774" stroke-width="1.46" />
<line x1="306.5" y1="447.3" x2="446" y2="447.3" stroke-width="1.4" stroke-dasharray="15 6.5"/>
<line x1="400" y1="447.3" x2="446" y2="447.3" stroke-width="1.4" />
<line x1="358.8" y1="342" x2="358.8" y2="374.6" stroke-width="1.4" />
<line x1="408" y1="342" x2="408" y2="374.6" stroke-width="1.4" />
<line x1="338.2" y1="343.8" x2="431.5" y2="343.8" stroke-width="1.4" />
<polygon points="358.60,343.80 350.60,341.55 350.60,346.05" fill="#000" stroke="#000" stroke-width="0.6"/>
<polygon points="408.20,343.80 416.20,341.55 416.20,346.05" fill="#000" stroke="#000" stroke-width="0.6"/>
<text x="380" y="339" font-size="14" font-weight="normal" text-anchor="middle" font-family='"Liberation Sans", sans-serif' fill="#000" stroke="none" class="thin" textLength="23" lengthAdjust="spacingAndGlyphs">Ød</text>
<line x1="413.7" y1="377.6" x2="474.4" y2="377.6" stroke-width="1.4" />
<line x1="413" y1="517.3" x2="511" y2="517.3" stroke-width="1.4" />
<line x1="472.4" y1="377.6" x2="472.4" y2="517.3" stroke-width="1.4" />
<polygon points="472.40,377.80 469.90,388.80 474.90,388.80" fill="#000" stroke="#000" stroke-width="0.6"/>
<polygon points="472.40,517.10 469.90,506.10 474.90,506.10" fill="#000" stroke="#000" stroke-width="0.6"/>
<line x1="477" y1="447.3" x2="562.4" y2="447.3" stroke-width="1.4" />
<line x1="509.4" y1="428" x2="509.4" y2="537" stroke-width="1.4" />
<polygon points="509.40,447.10 507.15,437.10 511.65,437.10" fill="#000" stroke="#000" stroke-width="0.6"/>
<polygon points="509.40,517.50 507.15,527.50 511.65,527.50" fill="#000" stroke="#000" stroke-width="0.6"/>
<line x1="560.6" y1="447.3" x2="560.6" y2="591.6" stroke-width="1.4" />
<polygon points="560.60,447.50 558.10,458.50 563.10,458.50" fill="#000" stroke="#000" stroke-width="0.6"/>
<polygon points="560.60,591.40 558.10,580.40 563.10,580.40" fill="#000" stroke="#000" stroke-width="0.6"/>
<line x1="293.4" y1="591.6" x2="562.4" y2="591.6" stroke-width="1.4" />
<line x1="267.6" y1="769.4" x2="383.2" y2="769.4" stroke-width="1.4" />
<polygon points="267.80,769.40 278.80,767.15 278.80,771.65" fill="#000" stroke="#000" stroke-width="0.6"/>
<polygon points="383.00,769.40 372.00,767.15 372.00,771.65" fill="#000" stroke="#000" stroke-width="0.6"/>
<text x="467" y="445.6" font-size="14.5" font-weight="normal" text-anchor="middle" font-family='"Liberation Sans", sans-serif' fill="#000" stroke="none" transform="rotate(-90 467 445.6)" class="thin" textLength="5.6" lengthAdjust="spacingAndGlyphs">B</text>
<text x="504" y="483" font-size="13.5" font-weight="normal" text-anchor="middle" font-family='"Liberation Sans", sans-serif' fill="#000" stroke="none" transform="rotate(-90 504 483)" class="thin" textLength="36" lengthAdjust="spacingAndGlyphs">1/2 B</text>
<text x="554.4" y="520.5" font-size="14.5" font-weight="normal" text-anchor="middle" font-family='"Liberation Sans", sans-serif' fill="#000" stroke="none" transform="rotate(-90 554.4 520.5)" class="thin" textLength="17" lengthAdjust="spacingAndGlyphs">84</text>
<text x="325" y="734" font-size="13.5" font-weight="normal" text-anchor="middle" font-family='"Liberation Sans", sans-serif' fill="#000" stroke="none" class="thin" textLength="47" lengthAdjust="spacingAndGlyphs">Ø14.5</text>
<text x="321.5" y="764" font-size="13" font-weight="normal" text-anchor="middle" font-family='"Liberation Sans", sans-serif' fill="#000" stroke="none" class="thin" textLength="18" lengthAdjust="spacingAndGlyphs">63</text>
</svg>
</body></html>
